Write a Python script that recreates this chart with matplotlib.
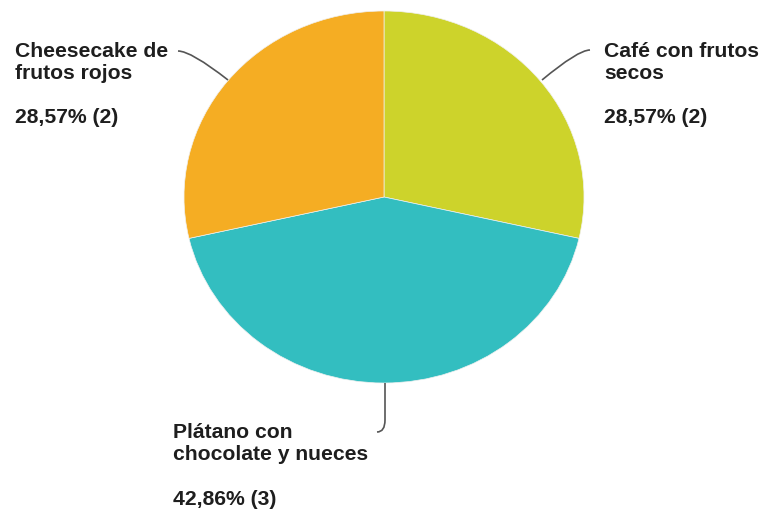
import matplotlib
matplotlib.use("Agg")
import matplotlib.pyplot as plt
from matplotlib.path import Path
from matplotlib.patches import PathPatch

# Dessert preference survey
categories = ["Café con frutos\nsecos", "Plátano con\nchocolate y nueces", "Cheesecake de\nfrutos rojos"]
counts = [2, 3, 2]
percent_labels = ["28,57% (2)", "42,86% (3)", "28,57% (2)"]
colors = ["#CDD32B", "#33BEC0", "#F5AD23"]

W, H = 763, 512
fig = plt.figure(figsize=(W / 100, H / 100), dpi=100)
fig.patch.set_facecolor("white")

# Pie axes, box in pixels: left, top, width, height
px_left, px_top, px_w, px_h = 184, 11, 400, 372
ax = fig.add_axes([px_left / W, 1 - (px_top + px_h) / H, px_w / W, px_h / H])
ax.pie(counts, colors=colors, startangle=90, counterclock=False,
       radius=1.0, wedgeprops=dict(linewidth=0.5, edgecolor="#f0f0f0"))
ax.set_aspect("auto")
ax.set_xlim(-1, 1)
ax.set_ylim(-1, 1)
ax.axis("off")

# Overlay for labels and leader lines, in pixel coordinates
ov = fig.add_axes([0, 0, 1, 1])
ov.set_xlim(0, W)
ov.set_ylim(H, 0)
ov.axis("off")
ov.patch.set_alpha(0)

leaders = [
    [(542, 80), (578, 50), (590, 50)],
    [(385, 383), (385, 420), (385, 432), (377, 432)],
    [(228, 80), (191, 51), (178, 51)],
]
for pts in leaders:
    if len(pts) == 3:
        codes = [Path.MOVETO, Path.CURVE3, Path.CURVE3]
    else:
        codes = [Path.MOVETO, Path.LINETO, Path.CURVE3, Path.CURVE3]
    ov.add_patch(PathPatch(Path(pts, codes), fill=False, edgecolor="#555555", lw=1.2))

label_pos = [(604, 57), (173, 438), (15, 57)]
pct_pos = [(604, 123), (173, 505), (15, 123)]
line_step = 22
font = dict(family=["Liberation Sans", "DejaVu Sans"], fontsize=15.2,
            fontweight="bold", color="#1e1e1e")
for name, pct, (lx, ly), (px, py) in zip(categories, percent_labels, label_pos, pct_pos):
    for i, line in enumerate(name.split("\n")):
        ov.text(lx, ly + i * line_step, line, ha="left", va="baseline", **font)
    ov.text(px, py, pct, ha="left", va="baseline", **font)

fig.savefig("out.png", dpi=100)
